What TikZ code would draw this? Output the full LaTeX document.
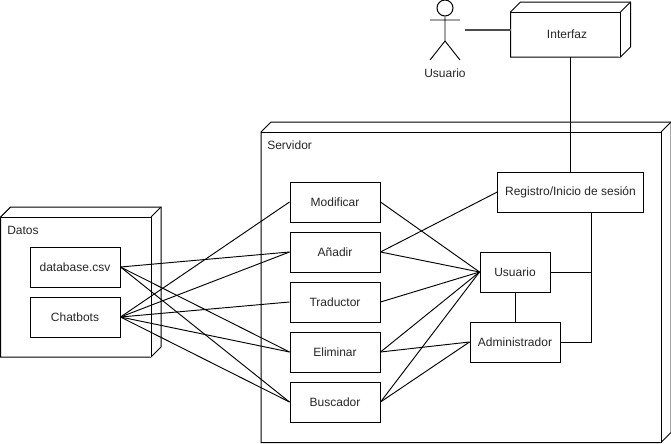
\documentclass[tikz,border=0pt]{standalone}
\usepackage{fontspec}
\setmainfont{Liberation Sans}
\usetikzlibrary{calc}
\tikzset{
  every node/.style={font=\fontsize{9}{11}\selectfont, text=black!85},
  box/.style={draw=black, line width=0.75pt, fill=white, minimum width=#1*0.75pt, inner sep=0pt, minimum height=30pt},
  box/.default=90,
  lnk/.style={draw=black, line width=0.7pt},
  cubeback/.style={draw=black, line width=0.75pt, fill=white, line join=miter},
  lbl/.style={inner sep=0pt, anchor=base west}
}
% #1 name, #2 x0, #3 y0, #4 x1, #5 y1 (front face, px)
\newcommand{\cubeshape}[5]{%
  \draw[cubeback] (#2,#3) -- ++(10,-10) -- (#4+10,#3-10) -- (#4+10,#5-10) -- (#4,#5) -- (#2,#5) -- cycle;
  \draw[cubeback] (#2,#3) -- (#4,#3) -- (#4,#5);
  \draw[cubeback] (#4,#3) -- (#4+10,#3-10);
  \coordinate (#1) at (#2,{(#3+#5)/2});
}
\begin{document}
\begin{tikzpicture}[x=0.75pt,y=-0.75pt]
\useasboundingbox (0,0) rectangle (671,443);
% containers
\cubeshape{srv}{261}{132}{661}{442.5}
\cubeshape{dat}{0.7}{217}{151}{357}
\cubeshape{ifz}{510.5}{12}{620.5}{57}
\node[inner sep=0pt] (ifzt) at (567,34.5) {Interfaz};
\node[lbl] (srvt) at (267,149.5) {Servidor};
\node[lbl] (datt) at (7,234.5) {Datos};
% boxes
\node[box] (csv) at (75,267) {database.csv};
\node[box] (cha) at (75,317) {Chatbots};
\node[box] (mod) at (335,202) {Modificar};
\node[box] (ana) at (335,252) {Añadir};
\node[box] (tra) at (335,302) {Traductor};
\node[box] (eli) at (335,352) {Eliminar};
\node[box] (bus) at (335,402) {Buscador};
\node[box=145.5] (reg) at (570.5,192) {Registro/Inicio de sesión};
\node[box=70] (usu) at (515,272) {Usuario};
\node[box=90] (adm) at (515,342) {Administrador};
% actor
\node[draw=black, line width=0.75pt, circle, minimum size=12pt, inner sep=0pt] (head) at (445,8) {};
\coordinate (hip) at (445,41);
\coordinate (armL) at (430,20);
\coordinate (armR) at (460,20);
\coordinate (legL) at (430,60);
\coordinate (legR) at (460,60);
\draw[lnk] (head.south) -- (hip) (armL) -- (armR) (legL) -- (hip) -- (legR);
\node (actl) at (445,73) [inner sep=0pt] {Usuario};
\coordinate (actorR) at (465,30);
\coordinate (ifzL) at (510.5,30);
\draw[draw=black!70, line width=0.8pt] (actorR) -- (ifzL);
% connectors
\foreach \t in {ana,eli,bus} \draw[lnk] (csv.east) -- (\t.west);
\foreach \t in {mod,ana,tra,eli,bus} \draw[lnk] (cha.east) -- (\t.west);
\foreach \t in {mod,ana,tra,eli,bus} \draw[lnk] (\t.east) -- (usu.west);
\draw[lnk] (ana.east) -- (reg.west);
\foreach \t in {eli,bus} \draw[lnk] (\t.east) -- (adm.west);
\draw[lnk] (usu.south) -- (adm.north);
\coordinate (jn) at (591.5,272);
\draw[lnk] (usu.east) -- (jn);
\draw[lnk] (reg.south -| jn) -- (jn) -- (jn |- adm.east) -- (adm.east);
\coordinate (ifzB) at (570,57);
\draw[lnk] (ifzB) -- (reg.north -| ifzB);
\end{tikzpicture}
\end{document}
